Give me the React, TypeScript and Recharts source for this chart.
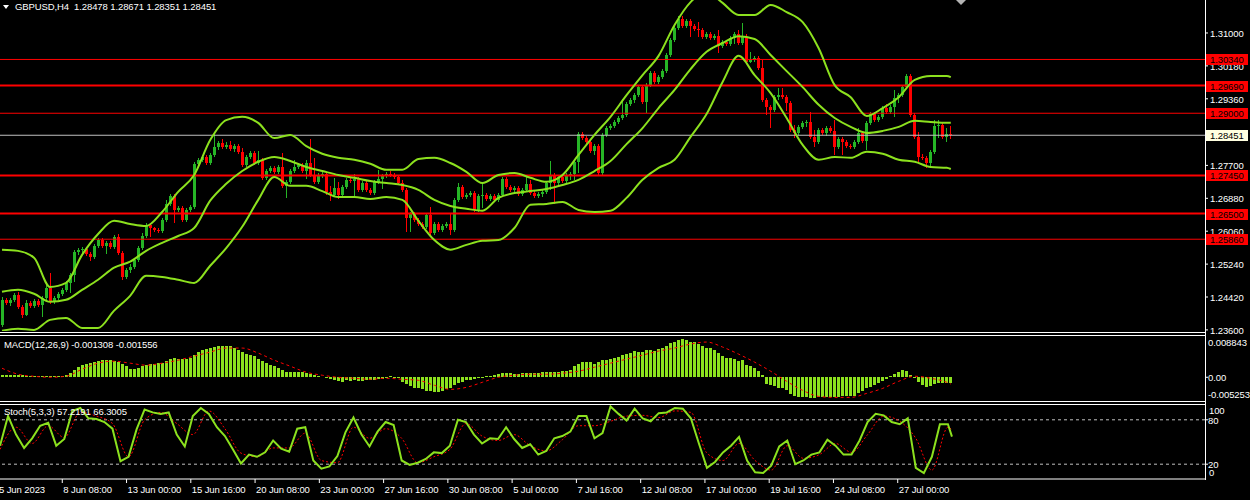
import React from "react";
import { Bar, ComposedChart, Line, ReferenceLine, XAxis, YAxis } from "recharts";

// GBPUSD H4 candles (oldest first); each open is the previous close
const firstOpen = 1.2373;
const closes = [
  1.2435, 1.2428, 1.2435, 1.2447, 1.2418, 1.2398, 1.2428, 1.2420, 1.2433, 1.2423,
  1.2440, 1.2465, 1.2430, 1.2440, 1.2450, 1.2460, 1.2477, 1.2497, 1.2555, 1.2560,
  1.2562, 1.2550, 1.2542, 1.2569, 1.2584, 1.2569, 1.2577, 1.2567, 1.2592, 1.2552,
  1.2492, 1.2510, 1.2517, 1.2535, 1.2564, 1.2594, 1.2622, 1.2614, 1.2609, 1.2607,
  1.2634, 1.2674, 1.2694, 1.2659, 1.2664, 1.2634, 1.2659, 1.2667, 1.2774, 1.2784,
  1.2791, 1.2776, 1.2796, 1.2816, 1.2826, 1.2816, 1.2821, 1.2811, 1.2818, 1.2804,
  1.2771, 1.2791, 1.2801, 1.2776, 1.2784, 1.2739, 1.2756, 1.2764, 1.2754, 1.2766,
  1.2719, 1.2729, 1.2756, 1.2766, 1.2771, 1.2756, 1.2776, 1.2746, 1.2729, 1.2746,
  1.2749, 1.2704, 1.2696, 1.2714, 1.2696, 1.2716, 1.2734, 1.2731, 1.2736, 1.2709,
  1.2726, 1.2709, 1.2701, 1.2729, 1.2736, 1.2744, 1.2749, 1.2746, 1.2741, 1.2726,
  1.2709, 1.2639, 1.2649, 1.2634, 1.2624, 1.2617, 1.2647, 1.2602, 1.2624, 1.2609,
  1.2619, 1.2624, 1.2609, 1.2684, 1.2716, 1.2691, 1.2696, 1.2701, 1.2659, 1.2694,
  1.2696, 1.2686, 1.2694, 1.2684, 1.2696, 1.2736, 1.2716, 1.2709, 1.2714, 1.2699,
  1.2709, 1.2724, 1.2701, 1.2694, 1.2699, 1.2704, 1.2726, 1.2746, 1.2726, 1.2741,
  1.2731, 1.2746, 1.2749, 1.2779, 1.2848, 1.2838, 1.2828, 1.2806, 1.2818, 1.2751,
  1.2846, 1.2863, 1.2868, 1.2878, 1.2888, 1.2896, 1.2923, 1.2933, 1.2945, 1.2965,
  1.2928, 1.2970, 1.3000, 1.2978, 1.2990, 1.3005, 1.3045, 1.3082, 1.3112, 1.3135,
  1.3117, 1.3130, 1.3117, 1.3110, 1.3107, 1.3090, 1.3097, 1.3087, 1.3092, 1.3067,
  1.3077, 1.3072, 1.3087, 1.3097, 1.3075, 1.3090, 1.3028, 1.3033, 1.3038, 1.3013,
  1.2933, 1.2916, 1.2908, 1.2940, 1.2945, 1.2940, 1.2926, 1.2858, 1.2851, 1.2866,
  1.2876, 1.2878, 1.2841, 1.2828, 1.2858, 1.2851, 1.2863, 1.2856, 1.2816, 1.2836,
  1.2828, 1.2818, 1.2816, 1.2828, 1.2851, 1.2831, 1.2876, 1.2898, 1.2883, 1.2891,
  1.2913, 1.2903, 1.2916, 1.2938, 1.2945, 1.2965, 1.2993, 1.2896, 1.2841, 1.2791,
  1.2789, 1.2776, 1.2804, 1.2868, 1.2871, 1.2841, 1.28478, 1.28451,
];
const highs = [
  1.2442, 1.2440, 1.2440, 1.2452, 1.2455, 1.2423, 1.2435, 1.2433, 1.2437, 1.2437,
  1.2445, 1.2472, 1.2502, 1.2445, 1.2455, 1.2465, 1.2482, 1.2502, 1.2560, 1.2564,
  1.2567, 1.2567, 1.2555, 1.2574, 1.2589, 1.2589, 1.2582, 1.2582, 1.2597, 1.2599,
  1.2557, 1.2515, 1.2525, 1.2540, 1.2569, 1.2602, 1.2627, 1.2627, 1.2617, 1.2614,
  1.2639, 1.2684, 1.2699, 1.2699, 1.2669, 1.2669, 1.2664, 1.2672, 1.2779, 1.2789,
  1.2796, 1.2796, 1.2801, 1.2848, 1.2831, 1.2836, 1.2828, 1.2831, 1.2823, 1.2823,
  1.2813, 1.2796, 1.2806, 1.2806, 1.2806, 1.2789, 1.2761, 1.2769, 1.2769, 1.2771,
  1.2801, 1.2734, 1.2761, 1.2784, 1.2776, 1.2776, 1.2784, 1.2836, 1.2789, 1.2751,
  1.2754, 1.2754, 1.2719, 1.2739, 1.2729, 1.2721, 1.2739, 1.2741, 1.2749, 1.2741,
  1.2731, 1.2731, 1.2714, 1.2734, 1.2759, 1.2749, 1.2754, 1.2756, 1.2751, 1.2746,
  1.2734, 1.2714, 1.2654, 1.2654, 1.2639, 1.2629, 1.2652, 1.2667, 1.2629, 1.2629,
  1.2624, 1.2629, 1.2649, 1.2689, 1.2726, 1.2721, 1.2701, 1.2706, 1.2706, 1.2699,
  1.2726, 1.2701, 1.2699, 1.2699, 1.2701, 1.2741, 1.2741, 1.2721, 1.2719, 1.2719,
  1.2714, 1.2741, 1.2734, 1.2706, 1.2704, 1.2709, 1.2731, 1.2781, 1.2751, 1.2746,
  1.2746, 1.2751, 1.2754, 1.2784, 1.2853, 1.2853, 1.2843, 1.2833, 1.2823, 1.2823,
  1.2851, 1.2868, 1.2873, 1.2883, 1.2893, 1.2935, 1.2928, 1.2938, 1.2950, 1.2970,
  1.2970, 1.2975, 1.3005, 1.3005, 1.2995, 1.3010, 1.3050, 1.3087, 1.3117, 1.3142,
  1.3142, 1.3135, 1.3135, 1.3122, 1.3127, 1.3112, 1.3102, 1.3102, 1.3097, 1.3107,
  1.3082, 1.3082, 1.3092, 1.3102, 1.3107, 1.3125, 1.3097, 1.3053, 1.3043, 1.3043,
  1.3033, 1.2938, 1.2921, 1.2945, 1.2963, 1.2963, 1.2945, 1.2931, 1.2871, 1.2871,
  1.2881, 1.2883, 1.2903, 1.2858, 1.2863, 1.2863, 1.2868, 1.2868, 1.2883, 1.2841,
  1.2841, 1.2833, 1.2823, 1.2833, 1.2863, 1.2856, 1.2881, 1.2903, 1.2903, 1.2896,
  1.2918, 1.2923, 1.2921, 1.2958, 1.2950, 1.2970, 1.2998, 1.2998, 1.2901, 1.2853,
  1.2799, 1.2794, 1.2809, 1.2883, 1.2883, 1.2876, 1.2863, 1.28671,
];
const lows = [
  1.2368, 1.2423, 1.2420, 1.2430, 1.2413, 1.2390, 1.2395, 1.2415, 1.2415, 1.2418,
  1.2393, 1.2435, 1.2425, 1.2425, 1.2435, 1.2445, 1.2455, 1.2452, 1.2480, 1.2547,
  1.2547, 1.2545, 1.2532, 1.2537, 1.2564, 1.2564, 1.2550, 1.2562, 1.2562, 1.2547,
  1.2485, 1.2487, 1.2502, 1.2512, 1.2530, 1.2560, 1.2589, 1.2592, 1.2604, 1.2602,
  1.2602, 1.2629, 1.2669, 1.2627, 1.2654, 1.2629, 1.2629, 1.2654, 1.2662, 1.2766,
  1.2779, 1.2771, 1.2771, 1.2791, 1.2809, 1.2811, 1.2811, 1.2806, 1.2804, 1.2799,
  1.2766, 1.2766, 1.2786, 1.2771, 1.2771, 1.2734, 1.2734, 1.2751, 1.2749, 1.2749,
  1.2714, 1.2689, 1.2724, 1.2751, 1.2761, 1.2751, 1.2736, 1.2741, 1.2724, 1.2724,
  1.2739, 1.2696, 1.2682, 1.2691, 1.2686, 1.2691, 1.2711, 1.2726, 1.2689, 1.2704,
  1.2704, 1.2704, 1.2696, 1.2696, 1.2724, 1.2711, 1.2739, 1.2741, 1.2736, 1.2721,
  1.2704, 1.2604, 1.2604, 1.2629, 1.2619, 1.2612, 1.2612, 1.2594, 1.2597, 1.2604,
  1.2604, 1.2614, 1.2597, 1.2604, 1.2679, 1.2686, 1.2686, 1.2691, 1.2654, 1.2654,
  1.2664, 1.2682, 1.2682, 1.2679, 1.2679, 1.2691, 1.2711, 1.2704, 1.2704, 1.2694,
  1.2694, 1.2704, 1.2696, 1.2689, 1.2689, 1.2691, 1.2699, 1.2709, 1.2674, 1.2721,
  1.2726, 1.2724, 1.2734, 1.2734, 1.2751, 1.2833, 1.2821, 1.2801, 1.2796, 1.2746,
  1.2746, 1.2841, 1.2858, 1.2863, 1.2873, 1.2883, 1.2891, 1.2918, 1.2926, 1.2940,
  1.2923, 1.2901, 1.2965, 1.2973, 1.2973, 1.2985, 1.3000, 1.3040, 1.3077, 1.3107,
  1.3112, 1.3112, 1.3090, 1.3105, 1.3090, 1.3085, 1.3085, 1.3082, 1.3082, 1.3050,
  1.3062, 1.3067, 1.3067, 1.3072, 1.3070, 1.3070, 1.3025, 1.3025, 1.3028, 1.3008,
  1.2928, 1.2896, 1.2863, 1.2903, 1.2933, 1.2935, 1.2906, 1.2853, 1.2838, 1.2846,
  1.2861, 1.2866, 1.2836, 1.2816, 1.2823, 1.2846, 1.2843, 1.2851, 1.2796, 1.2811,
  1.2796, 1.2813, 1.2811, 1.2811, 1.2823, 1.2826, 1.2809, 1.2871, 1.2878, 1.2878,
  1.2886, 1.2898, 1.2898, 1.2891, 1.2926, 1.2940, 1.2960, 1.2891, 1.2836, 1.2779,
  1.2784, 1.2764, 1.2769, 1.2799, 1.2838, 1.2836, 1.2828, 1.28351,
];

// Bollinger bands read every 4th candle (plus the last one)
const bbUpper = [
  1.2560, 1.2557, 1.2540, 1.2467, 1.2477, 1.2547, 1.2599, 1.2632, 1.2624, 1.2619,
  1.2654, 1.2704, 1.2746, 1.2833, 1.2883, 1.2891, 1.2876, 1.2838, 1.2846, 1.2818,
  1.2799, 1.2789, 1.2784, 1.2774, 1.2759, 1.2759, 1.2786, 1.2789, 1.2776, 1.2754,
  1.2726, 1.2746, 1.2751, 1.2739, 1.2729, 1.2746, 1.2796, 1.2846, 1.2891, 1.2945,
  1.2995, 1.3043, 1.3120, 1.3177, 1.3202, 1.3175, 1.3145, 1.3145, 1.3170, 1.3152,
  1.3127, 1.3062, 1.2970, 1.2940, 1.2893, 1.2913, 1.2940, 1.2983, 1.2993, 1.2993,
  1.2990,
];
const bbMiddle = [
  1.2455, 1.2460, 1.2450, 1.2430, 1.2435, 1.2460, 1.2485, 1.2515, 1.2530, 1.2557,
  1.2577, 1.2594, 1.2614, 1.2682, 1.2724, 1.2756, 1.2779, 1.2791, 1.2781, 1.2766,
  1.2756, 1.2746, 1.2739, 1.2731, 1.2726, 1.2721, 1.2709, 1.2684, 1.2669, 1.2662,
  1.2657, 1.2689, 1.2701, 1.2706, 1.2711, 1.2721, 1.2734, 1.2756, 1.2781, 1.2823,
  1.2863, 1.2913, 1.2958, 1.3010, 1.3053, 1.3075, 1.3092, 1.3085, 1.3045, 1.3005,
  1.2965, 1.2921, 1.2888, 1.2866, 1.2851, 1.2856, 1.2866, 1.2881, 1.2878, 1.2876,
  1.2876,
];
const bbLower = [
  1.2358, 1.2363, 1.2360, 1.2385, 1.2390, 1.2365, 1.2365, 1.2408, 1.2445, 1.2495,
  1.2492, 1.2485, 1.2477, 1.2520, 1.2564, 1.2617, 1.2684, 1.2741, 1.2719, 1.2719,
  1.2706, 1.2691, 1.2691, 1.2686, 1.2691, 1.2684, 1.2632, 1.2584, 1.2560, 1.2572,
  1.2582, 1.2584, 1.2614, 1.2672, 1.2674, 1.2679, 1.2659, 1.2654, 1.2657, 1.2689,
  1.2734, 1.2764, 1.2784, 1.2841, 1.2898, 1.2978, 1.3043, 1.2995, 1.2950, 1.2888,
  1.2821, 1.2784, 1.2791, 1.2789, 1.2804, 1.2799, 1.2784, 1.2779, 1.2766, 1.2764,
  1.2761,
];

// MACD(12,26,9): histogram per candle, signal every 4th candle
const macdHist = [
  0.00047, 0.00047, 0.00047, 0.00047, 0.00047, 0.00047, 0.00023, 0.00023, 0.00023, 0.00023,
  0.00023, 0.00023, 0.00023, 0.00023, 0.00023, 0.00023, 0.00047, 0.00093, 0.00163, 0.00233,
  0.00279, 0.00302, 0.00326, 0.00349, 0.00372, 0.00395, 0.00395, 0.00395, 0.00372, 0.00349,
  0.00302, 0.00256, 0.00186, 0.00186, 0.00209, 0.00256, 0.00279, 0.00302, 0.00302, 0.00326,
  0.00326, 0.00372, 0.00419, 0.00442, 0.00419, 0.00419, 0.00419, 0.00442, 0.00512, 0.00582,
  0.00628, 0.00651, 0.00675, 0.00698, 0.00721, 0.00721, 0.00721, 0.00721, 0.00675, 0.00628,
  0.00582, 0.00535, 0.00512, 0.00488, 0.00419, 0.00372, 0.00326, 0.00279, 0.00256, 0.00209,
  0.00163, 0.00116, 0.00116, 0.00116, 0.00116, 0.00116, 0.00093, 0.0007, 0.00047, 0.00023,
  0, -0.00023, -0.00047, -0.0007, -0.00093, -0.00116, -0.0007, -0.00093, -0.0007, -0.00093,
  -0.00093, -0.0007, -0.0007, -0.0007, -0.00047, -0.00047, -0.00023, 0.00023, -0.00023, -0.00023,
  -0.00116, -0.00163, -0.00209, -0.00256, -0.00256, -0.00279, -0.00326, -0.00326, -0.00349, -0.00349,
  -0.00326, -0.00279, -0.00256, -0.00186, -0.0014, -0.00116, -0.0007, -0.0007, -0.00047, -0.00023,
  -0.00023, 0.00023, 0.00023, 0.00047, 0.0007, 0.00093, 0.00093, 0.00093, 0.0007, 0.0007,
  0.00093, 0.00093, 0.00093, 0.00093, 0.00093, 0.00116, 0.00116, 0.00116, 0.00116, 0.00116,
  0.0014, 0.0014, 0.00163, 0.00256, 0.00302, 0.00349, 0.00349, 0.00349, 0.00302, 0.00349,
  0.00395, 0.00395, 0.00419, 0.00442, 0.00465, 0.00512, 0.00535, 0.00558, 0.00605, 0.00582,
  0.00582, 0.00628, 0.00628, 0.00605, 0.00651, 0.00675, 0.00721, 0.00791, 0.00814, 0.00861,
  0.00884, 0.00861, 0.00814, 0.00814, 0.00768, 0.00721, 0.00675, 0.00675, 0.00628, 0.00558,
  0.00488, 0.00442, 0.00442, 0.00419, 0.00372, 0.00395, 0.00279, 0.00256, 0.00209, 0.0014,
  0.00047, -0.00163, -0.00186, -0.00209, -0.00256, -0.00256, -0.00302, -0.00395, -0.00442, -0.00465,
  -0.00465, -0.00465, -0.00488, -0.00488, -0.00465, -0.00465, -0.00465, -0.00465, -0.00465, -0.00465,
  -0.00442, -0.00442, -0.00442, -0.00442, -0.00372, -0.00326, -0.00256, -0.00233, -0.00186, -0.0014,
  -0.00093, -0.00047, 0.00023, 0.0007, 0.00116, 0.00163, 0.0014, 0.00047, -0.00023, -0.00116,
  -0.00186, -0.00233, -0.00209, -0.00163, -0.0014, -0.0014, -0.0014, -0.001308,
];
const macdSignal = [
  0.00209, 0.0007, 0.00023, 0, 0.00023, 0.00186, 0.00326, 0.00372, 0.00326, 0.00279,
  0.00326, 0.00395, 0.00488, 0.00582, 0.00675, 0.00675, 0.00558, 0.00395, 0.00256, 0.00116,
  0.00047, 0, -0.00023, -0.00047, -0.00023, -0.00047, -0.0007, -0.00186, -0.00279, -0.00233,
  -0.00116, 0, 0.00047, 0.0007, 0.0007, 0.00093, 0.0014, 0.00233, 0.00326, 0.00419,
  0.00512, 0.00605, 0.00675, 0.00768, 0.00814, 0.00698, 0.00535, 0.00349, 0.0014, -0.00093,
  -0.00302, -0.00442, -0.00465, -0.00465, -0.00372, -0.00256, -0.00093, 0.00023, -0.00023, -0.00116,
  -0.001556,
];

// Stochastic(5,3,3): main every 2nd candle, signal every 4th (plus the last)
const stochMain = [
  45, 85, 60, 42, 55, 72, 76, 45, 54, 92,
  96, 82, 81, 77, 68, 24, 30, 67, 94, 90,
  88, 90, 60, 44, 85, 96, 88, 70, 58, 40,
  21, 33, 30, 36, 52, 41, 37, 68, 70, 25,
  14, 17, 31, 63, 83, 60, 44, 64, 77, 73,
  25, 19, 22, 27, 36, 35, 45, 80, 77, 60,
  48, 55, 54, 70, 54, 42, 47, 33, 38, 55,
  58, 64, 85, 85, 55, 62, 98, 88, 79, 95,
  82, 78, 89, 90, 96, 95, 82, 48, 15, 23,
  36, 45, 57, 25, 9, 8, 18, 44, 52, 20,
  25, 33, 36, 53, 45, 33, 33, 52, 77, 88,
  86, 77, 74, 82, 15, 8, 30, 74, 74, 57.2191,
];
const stochSignal = [
  40, 70, 48, 72, 56, 90, 85, 75, 30, 80,
  90, 75, 60, 92, 68, 35, 30, 42, 42, 62,
  25, 22, 70, 55, 68, 55, 22, 30, 40, 75,
  58, 52, 60, 45, 38, 53, 72, 72, 78, 85,
  86, 83, 92, 90, 35, 25, 48, 25, 12, 45,
  28, 33, 48, 36, 60, 85, 78, 55, 12, 70,
  66.3005,
];

const priceTicks = [1.31, 1.3018, 1.2936, 1.2854, 1.277, 1.2688, 1.2606, 1.2524, 1.2442, 1.236];
const redLevels = [1.3034, 1.2969, 1.29, 1.2745, 1.265, 1.2586];
const thickLevels = [1.2969, 1.2745, 1.265];
const lastPrice = 1.28451;
const macdTicks = [0.008843, 0, -0.005253];
const stochTicks = [100, 80, 20, 0];
const timeLabels = [
  "5 Jun 2023", "8 Jun 08:00", "13 Jun 00:00", "15 Jun 16:00", "20 Jun 08:00",
  "23 Jun 00:00", "27 Jun 16:00", "30 Jun 08:00", "5 Jul 00:00", "7 Jul 16:00",
  "12 Jul 08:00", "17 Jul 00:00", "19 Jul 16:00", "24 Jul 08:00", "27 Jul 00:00",
];

const SLOTS = 301;
const LABEL_EVERY = 16;
const PRICE_MAX = 1.31822;
const PRICE_MIN = 1.23573;

const BG = "#000000";
const FG = "#ffffff";
const UP = "#26b526";
const DOWN = "#ff0000";
const LIME = "#8ce11e";
const FONT = '"Liberation Sans", Arial, sans-serif';

const N = closes.length;
const rows: any[] = Array.from({ length: SLOTS }, (_, i) => ({ i }));
closes.forEach((c, i) => {
  const o = i === 0 ? firstOpen : closes[i - 1];
  Object.assign(rows[i], { o, c, h: highs[i], l: lows[i], range: [lows[i], highs[i]], hist: macdHist[i] });
});
const place = (arr: number[], step: number, key: string) =>
  arr.forEach((v, k) => {
    rows[k === arr.length - 1 ? N - 1 : k * step][key] = v;
  });
place(bbUpper, 4, "up");
place(bbMiddle, 4, "mid");
place(bbLower, 4, "lo");
place(macdSignal, 4, "sig");
place(stochMain, 2, "k");
place(stochSignal, 4, "d");
const timeTicks = timeLabels.map((_, k) => k * LABEL_EVERY);

const txt = { fontFamily: FONT, fontSize: 9.5, letterSpacing: -0.1 };

function Candle(props: any) {
  const { x, y, width, height, payload } = props;
  if (!payload || payload.c == null || !height) return null;
  const { o, c, h, l } = payload;
  const top = height >= 0 ? y : y + height;
  const hh = Math.abs(height);
  const ppu = hh / (h - l);
  const py = (v: number) => top + (h - v) * ppu;
  const color = c >= o ? UP : DOWN;
  const left = Math.floor(x + width / 2 - 1);
  const bTop = Math.min(py(o), py(c));
  const bH = Math.max(1, Math.abs(py(o) - py(c)));
  return (
    <g shapeRendering="crispEdges">
      <rect x={left + 1} y={top} width={1} height={hh} fill={color} />
      <rect x={left} y={bTop} width={3} height={bH} fill={color} />
    </g>
  );
}

function HistBar(props: any) {
  const { x, y, width, height } = props;
  if (height == null || Math.abs(height) < 0.01) return null;
  const top = height >= 0 ? y : y + height;
  return (
    <rect x={Math.floor(x + width / 2 - 1)} y={top} width={3} height={Math.max(1, Math.abs(height))}
      fill={LIME} shapeRendering="crispEdges" />
  );
}

function PriceTick({ x, y, payload }: any) {
  const v = payload.value;
  const boxed = redLevels.includes(v) || v === lastPrice;
  if (boxed) {
    const fill = v === lastPrice ? "#ffffe0" : "#ff0000";
    return (
      <g>
        <rect x={x + 1} y={y - 5} width={42} height={11} fill={fill} shapeRendering="crispEdges" />
        <text x={x + 5} y={y + 4} fill="#000" style={txt}>{v.toFixed(5)}</text>
      </g>
    );
  }
  return (
    <g>
      <line x1={x} x2={x + 3} y1={y} y2={y} stroke={FG} />
      <text x={x + 5} y={y + 4} fill={FG} style={txt}>{v.toFixed(5)}</text>
    </g>
  );
}

function MacdTick({ x, y, payload }: any) {
  const v = payload.value;
  const dy = v > 0 ? 7 : v < 0 ? -2 : 4;
  const label = v === 0 ? "0.00" : v.toFixed(6);
  return (
    <g>
      {v === 0 && <line x1={x} x2={x + 3} y1={y} y2={y} stroke={FG} />}
      <text x={x + 3} y={y + dy} fill={FG} style={txt}>{label}</text>
    </g>
  );
}

function StochTick({ x, y, payload }: any) {
  const v = payload.value;
  const dy = v === 100 ? 9 : v === 0 ? -3 : 4;
  const mid = v === 80 || v === 20;
  return (
    <g>
      {mid && <line x1={x} x2={x + 3} y1={y} y2={y} stroke={FG} />}
      <text x={x + (mid ? 3 : 4)} y={y + dy} fill={FG} style={txt}>{v}</text>
    </g>
  );
}

function TimeTick({ x, y, index }: any) {
  const left = x - 2;
  return (
    <g>
      <line x1={left} x2={left} y1={y} y2={y + 4} stroke={FG} />
      <text x={left + 1} y={y + 14} fill={FG} style={txt}>{timeLabels[index]}</text>
    </g>
  );
}

const hline = (top: number) => (
  <div style={{ position: "absolute", left: 0, top, width: 1206, height: 1, background: FG }} />
);

const lineProps = { dot: false, activeDot: false, connectNulls: true, isAnimationActive: false } as const;

export default function App() {
  return (
    <div style={{ position: "fixed", left: 0, top: 0, width: 1250, height: 500, background: BG, overflow: "hidden" }}>
      <div style={{ position: "absolute", left: 0, top: 0 }}>
        <ComposedChart width={1250} height={345} data={rows} margin={{ top: 0, right: 0, bottom: 14, left: 0 }} barCategoryGap={0}>
          <XAxis dataKey="i" hide />
          <YAxis orientation="right" width={45} type="number" domain={[PRICE_MIN, PRICE_MAX]} allowDataOverflow
            ticks={[...priceTicks, ...redLevels, lastPrice]} interval={0} tick={PriceTick}
            tickSize={0} tickMargin={0} tickLine={false} axisLine={false} />
          {redLevels.map((p) => (
            <ReferenceLine key={p} y={p} stroke="#ff0000" strokeWidth={thickLevels.includes(p) ? 2 : 1} />
          ))}
          <ReferenceLine y={lastPrice} stroke="#c0c0c0" strokeWidth={1} />
          <Bar dataKey="range" shape={Candle} isAnimationActive={false} />
          <Line dataKey="up" type="monotone" stroke={LIME} strokeWidth={2} {...lineProps} />
          <Line dataKey="mid" type="monotone" stroke={LIME} strokeWidth={2} {...lineProps} />
          <Line dataKey="lo" type="monotone" stroke={LIME} strokeWidth={2} {...lineProps} />
        </ComposedChart>
      </div>

      <div style={{ position: "absolute", left: 0, top: 335 }}>
        <ComposedChart width={1250} height={70} data={rows} margin={{ top: 4, right: 0, bottom: 5, left: 0 }} barCategoryGap={0}>
          <XAxis dataKey="i" hide />
          <YAxis orientation="right" width={45} type="number" domain={[-0.005253, 0.008843]} allowDataOverflow
            ticks={macdTicks} interval={0} tick={MacdTick} tickSize={0} tickMargin={0} tickLine={false} axisLine={false} />
          <Bar dataKey="hist" shape={HistBar} isAnimationActive={false} />
          <Line dataKey="sig" type="monotone" stroke="#ff0000" strokeWidth={1} strokeDasharray="3 3" {...lineProps} />
        </ComposedChart>
      </div>

      <div style={{ position: "absolute", left: 0, top: 401 }}>
        <ComposedChart width={1250} height={99} data={rows} margin={{ top: 4, right: 0, bottom: 0, left: 0 }}>
          <XAxis dataKey="i" height={21} ticks={timeTicks} interval={0} tick={TimeTick} tickSize={0} tickMargin={0}
            tickLine={false} axisLine={{ stroke: FG }} />
          <YAxis orientation="right" width={45} type="number" domain={[0, 100]} allowDataOverflow
            ticks={stochTicks} interval={0} tick={StochTick} tickSize={0} tickMargin={0} tickLine={false} axisLine={false} />
          <ReferenceLine y={80} stroke="#c0c0c0" strokeDasharray="3 3" />
          <ReferenceLine y={20} stroke="#c0c0c0" strokeDasharray="3 3" />
          <Line dataKey="d" type="monotone" stroke="#ff0000" strokeWidth={1} strokeDasharray="2 2" {...lineProps} />
          <Line dataKey="k" type="linear" stroke={LIME} strokeWidth={2} {...lineProps} />
        </ComposedChart>
      </div>

      {hline(332)}
      {hline(335)}
      {hline(401)}
      {hline(404)}
      <div style={{ position: "absolute", left: 1205, top: 0, width: 1, height: 480, background: FG }} />

      <div style={{ position: "absolute", left: 3, top: 5, width: 0, height: 0, borderLeft: "3px solid transparent", borderRight: "3px solid transparent", borderTop: `4px solid ${FG}` }} />
      <div style={{ position: "absolute", left: 15, top: 1, color: FG, whiteSpace: "nowrap", ...txt }}>
        GBPUSD,H4&nbsp;&nbsp;1.28478 1.28671 1.28351 1.28451
      </div>
      <div style={{ position: "absolute", left: 4, top: 339, color: FG, whiteSpace: "nowrap", ...txt }}>
        MACD(12,26,9) -0.001308 -0.001556
      </div>
      <div style={{ position: "absolute", left: 4, top: 406, color: FG, whiteSpace: "nowrap", ...txt }}>
        Stoch(5,3,3) 57.2191 66.3005
      </div>
      <div style={{ position: "absolute", left: 956, top: 0, width: 0, height: 0, borderLeft: "5px solid transparent", borderRight: "5px solid transparent", borderTop: "5px solid #b4b4b4" }} />
    </div>
  );
}
